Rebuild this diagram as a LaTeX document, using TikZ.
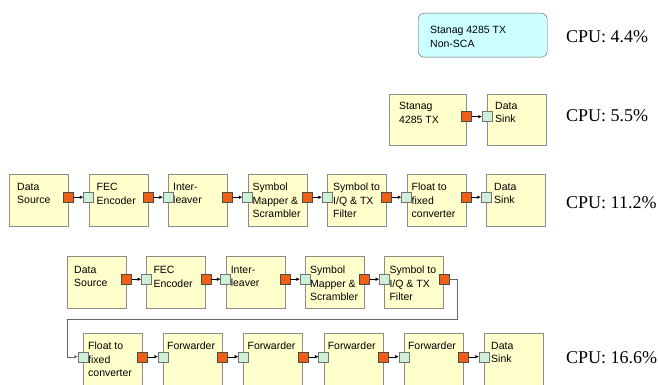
\documentclass[tikz,border=0pt]{standalone}
\usepackage{fontspec}
\setmainfont{Liberation Sans}
\newfontfamily\cpufont{Liberation Serif}
\usepackage{tikz}
\usetikzlibrary{arrows.meta, positioning, calc}
\definecolor{blkfill}{RGB}{255,255,204}
\definecolor{blkline}{RGB}{140,140,140}
\definecolor{portout}{RGB}{240,95,20}
\definecolor{portin}{RGB}{205,240,215}
\definecolor{scafill}{RGB}{204,255,255}

\begin{document}
\begin{tikzpicture}[x=1pt,y=-1pt,
		blk/.style={draw=blkline,fill=blkfill,minimum width=59pt,minimum height=52pt,inner sep=0pt,anchor=north west},
		lbl/.style={anchor=north west,inner sep=0pt,align=left,font=\fontsize{10.5}{13.5}\selectfont},
		outport/.style={draw=black!70,fill=portout,minimum size=10pt,inner sep=0pt},
		inport/.style={draw=black!55,fill=portin,minimum size=10pt,inner sep=0pt},
		wire/.style={-{Latex[length=3.5pt,width=3.5pt]},black},
		loopwire/.style={-{Latex[length=3.5pt,width=3.5pt]},black!60},
		cpu/.style={anchor=west,inner sep=0pt,font=\cpufont\fontsize{18}{20}\selectfont}]
	\useasboundingbox (0,0) rectangle (658,385);
	\clip (0,0) rectangle (658,385);

	% non-SCA waveform
	\node[draw=black!65,fill=scafill,rounded corners=6pt,minimum width=129pt,minimum height=44pt,inner sep=0pt,anchor=north west] (sca) at (418,13) {};
	\node[lbl] (scatxt) at ([xshift=12pt,yshift=-13pt]sca.north west) {Stanag 4285 TX\\Non-SCA};
	\node[cpu] (cpu1) at (566,37) {CPU: 4.4\%};

	% one component + sink
	\node[blk,minimum width=77pt,minimum height=51pt] (r2a) at (389,94) {};
	\node[blk,minimum height=51pt] (r2b) at (487,94) {};
	\node[lbl] (r2a-txt) at ([xshift=10pt,yshift=-8pt]r2a.north west) {Stanag\\4285 TX};
	\node[lbl] (r2b-txt) at ([xshift=8pt,yshift=-8pt]r2b.north west) {Data\\Sink};
	\node[outport] (r2a-out) at ([yshift=3pt]r2a.east) {};
	\node[inport] (r2b-in) at ([yshift=3pt]r2b.west) {};
	\draw[wire] (r2a-out.east) -- (r2b-in.west);
	\node[cpu] (cpu2) at (566,116) {CPU: 5.5\%};

	% full chain
	\foreach \n/\x/\d/\t in {a/9/8/{Data\\Source}, b/88.5/8/{FEC\\Encoder}, c/168/5/{Inter-\\leaver},
			d/247.5/5/{Symbol\\Mapper \&\\Scrambler}, e/327/6/{Symbol to\\I/Q \& TX\\Filter},
			f/406.5/5/{Float to\\fixed\\converter}, g/486/8/{Data\\Sink}}{
		\node[blk] (r3\n) at (\x,174) {};
		\node[lbl] (r3\n-txt) at ([xshift=\d pt,yshift=-9pt]r3\n.north west) {\t};
	}
	\foreach \a/\b in {a/b,b/c,c/d,d/e,e/f,f/g}{
		\node[outport] (r3\a-out) at ([yshift=3pt]r3\a.east) {};
		\node[inport] (r3\b-in) at ([yshift=3pt]r3\b.west) {};
		\draw[wire] (r3\a-out.east) -- (r3\b-in.west);
	}
	\node[cpu] (cpu3) at (566,203) {CPU: 11.2\%};

	% chain with forwarders
	\foreach \n/\x/\d/\t in {a/67/7/{Data\\Source}, b/146.3/7/{FEC\\Encoder}, c/225.6/5/{Inter-\\leaver},
			d/305/5/{Symbol\\Mapper \&\\Scrambler}, e/384.3/5/{Symbol to\\I/Q \& TX\\Filter}}{
		\node[blk] (r4\n) at (\x,256) {};
		\node[lbl] (r4\n-txt) at ([xshift=\d pt,yshift=-10pt]r4\n.north west) {\t};
	}
	\foreach \a/\b in {a/b,b/c,c/d,d/e}{
		\node[outport] (r4\a-out) at ([yshift=3pt]r4\a.east) {};
		\node[inport] (r4\b-in) at ([yshift=3pt]r4\b.west) {};
		\draw[wire] (r4\a-out.east) -- (r4\b-in.west);
	}
	\node[outport] (r4e-out) at ([yshift=3pt]r4e.east) {};

	\foreach \n/\x/\d/\t in {a/83/5/{Float to\\fixed\\converter}, b/163/4/{Forwarder}, c/243.4/4/{Forwarder},
			d/323.6/4/{Forwarder}, e/403.8/4/{Forwarder}, f/484/7/{Data\\Sink}}{
		\node[blk,minimum height=55pt] (r5\n) at (\x,333) {};
		\node[lbl] (r5\n-txt) at ([xshift=\d pt,yshift=-9pt]r5\n.north west) {\t};
	}
	\foreach \a/\b in {a/b,b/c,c/d,d/e,e/f}{
		\node[outport] (r5\a-out) at ([yshift=4pt]r5\a.east) {};
		\node[inport] (r5\b-in) at ([yshift=4pt]r5\b.west) {};
		\draw[wire] (r5\a-out.east) -- (r5\b-in.west);
	}
	\node[inport] (r5a-in) at ([yshift=4pt]r5a.west) {};
	\coordinate (turnR) at (457,319);
	\coordinate (turnL) at (67,319);
	\draw[loopwire] (r4e-out.east) -| (turnR) -- (turnL) |- (r5a-in.west);
	\node[cpu] (cpu4) at (566,358) {CPU: 16.6\%};
\end{tikzpicture}
\end{document}
